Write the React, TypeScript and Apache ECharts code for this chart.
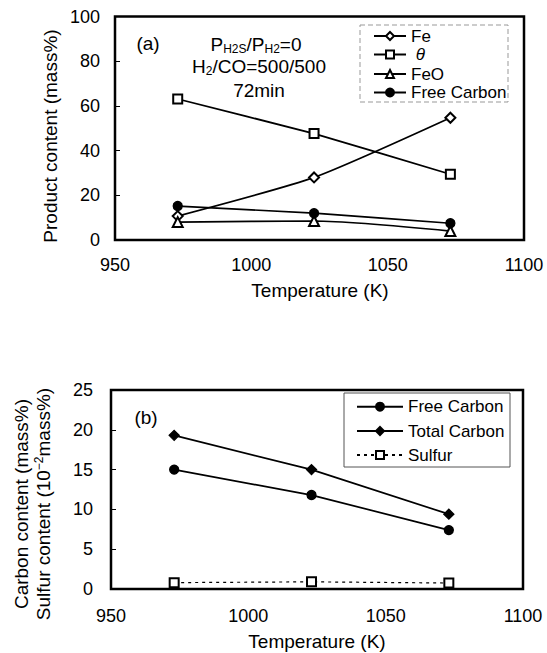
import React, { useEffect, useRef } from "react";
import * as echarts from "echarts";

const temperatures = [973, 1023, 1073];
const feValues = [10.7, 28.0, 54.7];
const thetaValues = [63.1, 47.6, 29.4];
const feoValues = [8.0, 8.5, 4.0];
const freeCarbonA = [15.2, 12.0, 7.5];
const freeCarbonB = [15.0, 11.8, 7.4];
const totalCarbonB = [19.3, 15.0, 9.4];
const sulfurB = [0.8, 0.9, 0.75];
const xTickRange = [950, 1100];
const yTickRangeA = [0, 100];
const yTickRangeB = [0, 25];

const FONT = "'Liberation Sans', Arial, sans-serif";

const pairs = (ys: number[]) => temperatures.map((t, i) => [t, ys[i]]);

export default function App() {
  const ref = useRef<HTMLDivElement>(null);
  useEffect(() => {
    document.body.style.margin = "0";
    const chart = echarts.init(ref.current!, null, { renderer: "svg" });
    const axisLabel = (margin: number) => ({
      color: "#000",
      fontSize: 18,
      fontFamily: FONT,
      margin,
      formatter: (v: number) => String(v),
    });
    const xAxisBase = (gridIndex: number, margin: number) => ({
      type: "value",
      gridIndex,
      min: xTickRange[0],
      max: xTickRange[1],
      interval: 50,
      axisLine: { show: false },
      axisTick: { show: false },
      splitLine: { show: false },
      axisLabel: axisLabel(margin),
    });
    const lineSeries = (
      name: string,
      ys: number[],
      symbol: string,
      symbolSize: number,
      idx: number,
      smooth: number | boolean,
      dotted = false
    ) => ({
      type: "line",
      name,
      xAxisIndex: idx,
      yAxisIndex: idx,
      data: pairs(ys),
      symbol,
      symbolSize,
      smooth,
      showSymbol: true,
      itemStyle: { color: "#000", borderColor: "#000", borderWidth: 1.3 },
      lineStyle: {
        color: "#000",
        width: dotted ? 1.2 : 1.7,
        type: dotted ? [3, 4] : "solid",
      },
      z: 3,
    });
    const legendItem = (name: string, centerY: number, left: number, width: number) => ({
      data: [name],
      left,
      top: centerY - 9,
      orient: "vertical",
      padding: 0,
      itemWidth: width,
      itemHeight: 10,
      selectedMode: false,
      textStyle: {
        color: "#000",
        fontSize: 17,
        fontFamily: FONT,
        lineHeight: 18,
        rich: { it: { fontStyle: "italic", fontSize: 17, fontFamily: FONT, lineHeight: 18 } },
      },
      formatter: (n: string) => (n === "θ" ? " {it|θ}" : n),
    });
    const textEl = (text: string, x: number, y: number, extra: any = {}) => ({
      type: "text",
      x,
      y,
      rotation: extra.rotation || 0,
      style: {
        text,
        fill: "#000",
        fontSize: 19,
        fontFamily: FONT,
        align: "center",
        verticalAlign: "middle",
        ...(extra.style || {}),
      },
      z: 10,
    });
    const rich = {
      n: { fontSize: 19, fontFamily: FONT, lineHeight: 22, verticalAlign: "middle", fill: "#000", color: "#000" },
      s: { fontSize: 12, fontFamily: FONT, lineHeight: 12, verticalAlign: "bottom", fill: "#000", color: "#000" },
      p: { fontSize: 12, fontFamily: FONT, lineHeight: 12, verticalAlign: "top", fill: "#000", color: "#000" },
    };

    chart.setOption({
      animation: false,
      backgroundColor: "#fff",
      grid: [
        { left: 115, top: 16.5, right: 23, height: 223.5, show: true, borderColor: "#000", borderWidth: 2.5, backgroundColor: "transparent" },
        { left: 111, top: 390, right: 24, height: 199, show: true, borderColor: "#000", borderWidth: 2.5, backgroundColor: "transparent" },
      ],
      xAxis: [xAxisBase(0, 16), xAxisBase(1, 18)],
      yAxis: [
        {
          type: "value",
          gridIndex: 0,
          min: yTickRangeA[0],
          max: yTickRangeA[1],
          interval: 20,
          axisLine: { show: false },
          axisTick: { show: true, inside: true, length: 5, lineStyle: { color: "#000", width: 1 } },
          splitLine: { show: false },
          axisLabel: axisLabel(15),
        },
        {
          type: "value",
          gridIndex: 1,
          min: yTickRangeB[0],
          max: yTickRangeB[1],
          interval: 5,
          axisLine: { show: false },
          axisTick: { show: true, inside: true, length: 5, lineStyle: { color: "#000", width: 1 } },
          splitLine: { show: false },
          axisLabel: axisLabel(18),
        },
      ],
      legend: [
        legendItem("Fe", 36, 373, 32),
        legendItem("θ", 54.5, 373, 32),
        legendItem("FeO", 74, 373, 32),
        legendItem("Free Carbon", 92.5, 373, 32),
        legendItem("Free Carbon", 406.7, 356, 46),
        legendItem("Total Carbon", 431, 356, 46),
        legendItem("Sulfur", 455, 356, 46),
      ],
      series: [
        lineSeries("Fe", feValues, "emptyDiamond", 10, 0, 0.2),
        lineSeries("θ", thetaValues, "emptyRect", 9, 0, 0.1),
        lineSeries("FeO", feoValues, "emptyTriangle", 10, 0, 0.25),
        lineSeries("Free Carbon", freeCarbonA, "circle", 9, 0, 0.1),
        lineSeries("Free Carbon", freeCarbonB, "circle", 9, 1, false),
        lineSeries("Total Carbon", totalCarbonB, "diamond", 10, 1, false),
        lineSeries("Sulfur", sulfurB, "emptyRect", 9, 1, false, true),
      ],
      graphic: [
        {
          type: "rect",
          shape: { x: 360, y: 25, width: 148, height: 77 },
          style: { fill: "#fff", stroke: "#999", lineWidth: 1, lineDash: [5, 3] },
          z: 1,
        },
        {
          type: "rect",
          shape: { x: 344, y: 393, width: 166, height: 74 },
          style: { fill: "#fff", stroke: "#555", lineWidth: 1 },
          z: 1,
        },
        textEl("(a)", 148, 43),
        textEl("{n|P}{s|H2S}{n|/P}{s|H2}{n|=0}", 256, 44, { style: { rich } }),
        textEl("{n|H}{s|2}{n|/CO=500/500}", 259, 66, { style: { rich } }),
        textEl("72min", 259, 90),
        textEl("(b)", 146, 417),
        textEl("Temperature (K)", 320, 290),
        textEl("Temperature (K)", 317, 641),
        textEl("Product content (mass%)", 50, 136, { rotation: Math.PI / 2 }),
        textEl("Carbon content (mass%)", 21.5, 504, { rotation: Math.PI / 2 }),
        textEl("{n|Sulfur content (10}{p|−2}{n|mass%)}", 43.5, 504, { rotation: Math.PI / 2, style: { rich } }),
      ],
    } as any);
    return () => chart.dispose();
  }, []);
  return <div ref={ref} style={{ width: 547, height: 653 }} />;
}
